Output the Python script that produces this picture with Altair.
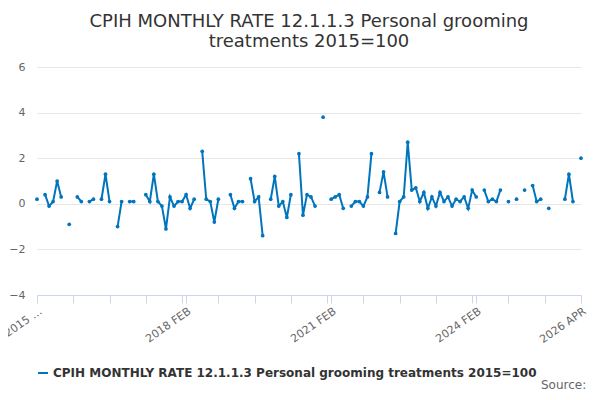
import pandas as pd
import altair as alt

# monthly values from 2015 JAN (month 0) to 2026 APR (month 135); None = no data
points = {
    0: 0.2, 2: 0.4, 3: -0.1, 4: 0.1, 5: 1.0, 6: 0.3, 8: -0.9, 10: 0.3, 11: 0.1,
    13: 0.1, 14: 0.2, 16: 0.2, 17: 1.3, 18: 0.1, 20: -1.0, 21: 0.1, 23: 0.1, 24: 0.1,
    27: 0.4, 28: 0.1, 29: 1.3, 30: 0.1, 31: -0.1, 32: -1.1, 33: 0.3, 34: -0.1,
    35: 0.1, 36: 0.1, 37: 0.4, 38: -0.2, 39: 0.2, 41: 2.3, 42: 0.2, 43: 0.1,
    44: -0.8, 45: 0.2, 48: 0.4, 49: -0.2, 50: 0.1, 51: 0.1, 53: 1.1, 54: 0.1,
    55: 0.3, 56: -1.4, 58: 0.2, 59: 1.2, 60: -0.1, 61: 0.1, 62: -0.6, 63: 0.4,
    65: 2.2, 66: -0.5, 67: 0.4, 68: 0.3, 69: -0.1, 71: 3.8, 73: 0.2, 74: 0.3,
    75: 0.4, 76: -0.2, 78: -0.1, 79: 0.1, 80: 0.1, 81: -0.1, 82: 0.3, 83: 2.2,
    85: 0.5, 86: 1.4, 87: 0.3, 89: -1.3, 90: 0.1, 91: 0.3, 92: 2.7, 93: 0.6,
    94: 0.7, 95: 0.1, 96: 0.5, 97: -0.2, 98: 0.3, 99: -0.1, 100: 0.5, 101: 0.1,
    102: 0.3, 103: -0.1, 104: 0.2, 105: 0.1, 106: 0.3, 107: -0.2, 108: 0.6,
    109: 0.3, 111: 0.6, 112: 0.1, 113: 0.2, 114: 0.1, 115: 0.6, 117: 0.1,
    119: 0.2, 121: 0.6, 123: 0.8, 124: 0.1, 125: 0.2, 127: -0.2, 131: 0.2,
    132: 1.3, 133: 0.1, 135: 2.0,
}
months = list(range(136))
values = [points.get(m) for m in months]
series = "CPIH MONTHLY RATE 12.1.1.3 Personal grooming treatments 2015=100"

tick_months = [0, 37, 73, 109, 135]
tick_labels = ["2015 …", "2018 FEB", "2021 FEB", "2024 FEB", "2026 APR"]
label_expr = " : ".join(
    f"datum.value == {m} ? '{t}'" for m, t in zip(tick_months, tick_labels)
) + " : ''"
tick_values = sorted(set(list(range(0, 136, 9)) + tick_months))

data = pd.DataFrame({"month": months, "value": values, "series": series})

line = (
    alt.Chart(data)
    .mark_line(point=alt.OverlayMarkDef(size=14, filled=True), strokeWidth=2, invalid="break-paths-show-domains")
    .encode(
        x=alt.X(
            "month:Q",
            scale=alt.Scale(domain=[0, 135], nice=False, zero=False),
            axis=alt.Axis(
                title=None, values=tick_values, labelExpr=label_expr,
                labelAngle=-35, labelColor="#666", labelFontSize=11, grid=False,
                domainColor="#ccd6eb", tickColor="#ccd6eb", tickSize=8, labelOverlap=False,
            ),
        ),
        y=alt.Y(
            "value:Q",
            scale=alt.Scale(domain=[-4, 6]),
            axis=alt.Axis(
                title=None, values=[-4, -2, 0, 2, 4, 6], labelColor="#666",
                labelFontSize=11, domain=False, ticks=False, gridColor="#e6e6e6",
                labelPadding=12,
            ),
        ),
        color=alt.Color(
            "series:N",
            scale=alt.Scale(range=["#0075be"]),
            legend=alt.Legend(
                title=None, orient="none", legendX=0, legendY=300, symbolType="stroke",
                labelFontSize=12, labelFontWeight="bold", labelColor="#333",
                labelLimit=600, symbolStrokeWidth=2,
            ),
        ),
    )
)

source = (
    alt.Chart(pd.DataFrame({"t": ["Source:"]}))
    .mark_text(align="left", fontSize=12, color="#666")
    .encode(text="t:N", x=alt.value(504), y=alt.value(318))
)

chart = (
    alt.layer(line, source)
    .properties(
        width=544,
        height=228,
        padding={"left": 29, "top": 59, "right": 11, "bottom": 97},
        autosize=alt.AutoSizeParams(type="none"),
        title=alt.Title(
            ["CPIH MONTHLY RATE 12.1.1.3 Personal grooming", "treatments 2015=100"],
            fontSize=18, fontWeight="normal", color="#333", anchor="middle", offset=10,
        ),
    )
    .configure(font="DejaVu Sans")
    .configure_view(stroke=None)
)

chart.save("out.html", embed_options={"renderer": "svg", "actions": False})
